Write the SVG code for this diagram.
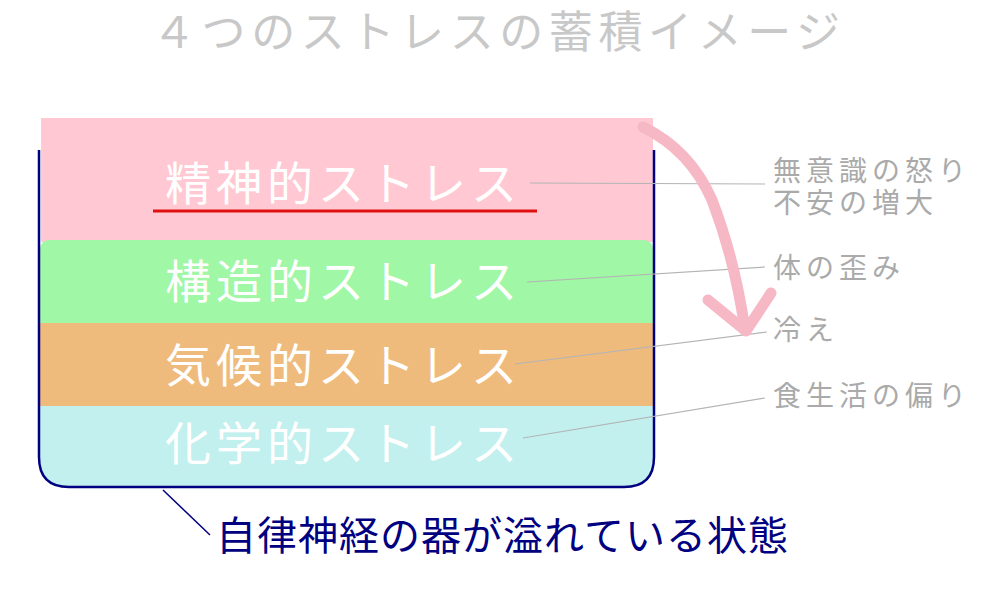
<svg xmlns="http://www.w3.org/2000/svg" width="1000" height="600" viewBox="0 0 1000 600">
<style>
.t{font-family:"Noto Sans CJK JP","Noto Sans",sans-serif}
.layer{font-size:46px;fill:#ffffff;letter-spacing:5px}
.lab{font-size:28px;fill:#aaaaaa;letter-spacing:5px}
.lead{stroke:#b4b4b4;stroke-width:1.2;fill:none}
</style>
<rect width="1000" height="600" fill="#ffffff"/>
<text class="t" x="152" y="48" font-size="44" fill="#c8c8c8" textLength="688" lengthAdjust="spacing">４つのストレスの蓄積イメージ</text>
<g id="layer-mental">
<rect x="41" y="118" width="612" height="124" fill="#ffc8d2"/>
<text class="t layer" x="165" y="200">精神的ストレス</text>
<line x1="153" y1="211" x2="537" y2="211" stroke="#e01010" stroke-width="3"/>
</g>
<g id="layer-structural">
<path d="M40,323 V250 Q40,240 50,240 H643 Q653,240 653,250 V323 Z" fill="#a0f7a6"/>
<text class="t layer" x="165" y="298">構造的ストレス</text>
</g>
<g id="layer-climate">
<rect x="40" y="323" width="613" height="83" fill="#efbb7d"/>
<text class="t layer" x="165" y="382">気候的ストレス</text>
</g>
<g id="layer-chemical">
<path d="M40,406 H653 V457 Q653,487 623,487 H70 Q40,487 40,457 Z" fill="#c2f0ee"/>
<text class="t layer" x="165" y="460">化学的ストレス</text>
</g>
<g id="container">
<path d="M39,150 V457 Q39,487 69,487 H624 Q654,487 654,457 V150" fill="none" stroke="#000080" stroke-width="2.5"/>
</g>
<g id="connectors">
<line class="lead" x1="530" y1="183" x2="765" y2="184"/>
<line class="lead" x1="527" y1="282" x2="765" y2="267"/>
<line class="lead" x1="515" y1="364" x2="767" y2="332"/>
<line class="lead" x1="523" y1="438" x2="765" y2="398"/>
<line x1="163" y1="490" x2="210" y2="535" stroke="#000080" stroke-width="1.5"/>
<path d="M643,127 Q690,150 712,200 Q735,260 745,330" fill="none" stroke="#f7b8c6" stroke-width="11" stroke-linecap="round"/>
<path d="M708,300 L746,331 L771,293" fill="none" stroke="#f7b8c6" stroke-width="11" stroke-linecap="round" stroke-linejoin="round"/>
</g>
<g id="labels">
<text class="t lab" x="773" y="181">無意識の怒り</text>
<text class="t lab" x="773" y="213">不安の増大</text>
<text class="t lab" x="773" y="278">体の歪み</text>
<text class="t lab" x="773" y="340">冷え</text>
<text class="t lab" x="773" y="406">食生活の偏り</text>
</g>
<g id="caption">
<text class="t" x="216" y="550" font-size="40" fill="#000080" textLength="572" lengthAdjust="spacing">自律神経の器が溢れている状態</text>
</g>
</svg>
